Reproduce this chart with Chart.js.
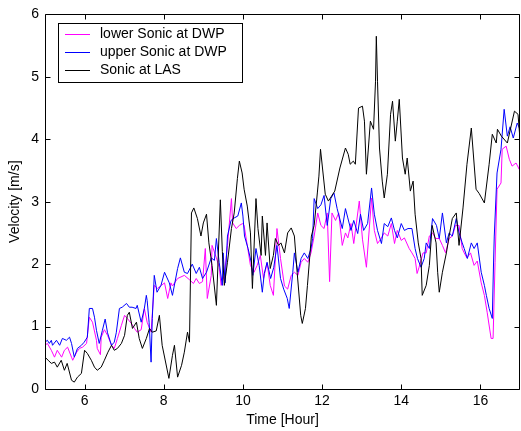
<!DOCTYPE html>
<html><head><meta charset="utf-8">
<script src="https://cdn.jsdelivr.net/npm/chart.js@4/dist/chart.umd.min.js"></script>
<style>html,body{margin:0;padding:0;background:#fff}#wrap{width:521px;height:431px}</style>
</head><body><div id="wrap"><canvas id="c" width="521" height="431"></canvas></div>
<script>
const xTickValues = [6, 8, 10, 12, 14, 16];
const yTickValues = [0, 1, 2, 3, 4, 5, 6];
const seriesNames = ["lower Sonic at DWP", "upper Sonic at DWP", "Sonic at LAS"];
const xTitle = "Time [Hour]";
const yTitle = "Velocity [m/s]";

const lowerTime = [5.00,5.06,5.16,5.24,5.31,5.42,5.49,5.57,5.67,5.70,5.80,5.87,5.95,6.05,6.12,6.20,6.30,6.32,6.40,6.42,6.50,6.58,6.68,6.75,6.83,6.93,7.01,7.08,7.18,7.26,7.33,7.43,7.51,7.58,7.68,7.76,7.84,7.94,8.02,8.10,8.18,8.22,8.35,8.52,8.65,8.75,8.82,8.90,8.98,9.05,9.10,9.20,9.22,9.33,9.40,9.45,9.53,9.61,9.71,9.74,9.83,9.91,9.99,10.03,10.11,10.19,10.28,10.36,10.44,10.52,10.61,10.69,10.77,10.86,10.95,11.05,11.13,11.22,11.30,11.39,11.47,11.55,11.64,11.72,11.80,11.89,11.97,12.05,12.13,12.19,12.25,12.34,12.42,12.51,12.59,12.65,12.73,12.80,12.94,13.02,13.12,13.25,13.32,13.40,13.48,13.57,13.66,13.75,13.83,13.90,14.00,14.08,14.20,14.27,14.35,14.40,14.45,14.55,14.63,14.71,14.79,14.87,14.96,15.04,15.12,15.21,15.29,15.37,15.46,15.54,15.59,15.66,15.75,15.84,15.92,16.02,16.10,16.17,16.27,16.32,16.37,16.42,16.52,16.55,16.65,16.73,16.80,16.90,16.98,17.00];
const lowerVel  = [0.70,0.73,0.62,0.51,0.62,0.51,0.62,0.67,0.51,0.46,0.59,0.65,0.67,0.73,1.15,1.07,0.78,0.65,0.55,0.83,0.95,0.86,0.70,0.65,0.81,1.02,1.18,1.13,1.05,0.97,0.91,0.95,1.29,1.07,0.91,1.66,1.61,1.66,1.70,1.45,1.70,1.65,1.77,1.82,1.75,1.69,1.77,1.69,1.72,2.25,1.45,1.82,2.30,2.10,1.95,1.66,1.82,2.30,3.05,2.66,2.57,2.62,2.65,2.62,2.30,1.98,1.87,1.98,2.14,1.77,2.02,1.66,1.50,2.57,2.09,1.65,1.60,1.82,1.87,1.82,2.03,2.09,2.03,2.18,2.45,2.82,2.62,2.57,2.82,1.72,2.82,2.70,2.82,2.30,2.50,2.42,2.65,2.33,3.01,2.40,1.95,3.06,2.54,2.33,2.40,2.50,2.45,2.65,2.33,2.54,2.38,2.42,2.25,2.18,2.09,1.85,1.95,2.18,2.18,2.45,2.50,2.41,2.41,2.30,2.18,2.41,2.45,2.62,2.62,2.25,2.18,2.10,2.18,1.98,2.05,1.70,1.50,1.23,0.81,0.81,2.03,3.20,3.30,3.84,3.89,3.68,3.57,3.62,3.52,3.73];

const upperTime = [5.00,5.06,5.11,5.16,5.19,5.29,5.37,5.44,5.54,5.62,5.67,5.74,5.82,5.92,5.99,6.07,6.12,6.20,6.25,6.30,6.37,6.45,6.52,6.58,6.68,6.75,6.80,6.88,6.95,7.06,7.13,7.20,7.30,7.33,7.43,7.51,7.56,7.58,7.63,7.68,7.71,7.76,7.83,7.93,8.02,8.14,8.22,8.35,8.42,8.52,8.60,8.72,8.82,8.90,8.98,9.08,9.20,9.28,9.33,9.40,9.48,9.50,9.55,9.61,9.70,9.78,9.87,9.96,10.00,10.04,10.13,10.21,10.25,10.33,10.41,10.49,10.54,10.61,10.70,10.78,10.86,10.95,11.03,11.12,11.17,11.26,11.30,11.39,11.47,11.55,11.64,11.72,11.76,11.80,11.89,11.97,12.05,12.13,12.22,12.30,12.38,12.51,12.59,12.65,12.73,12.80,12.90,12.97,13.05,13.15,13.25,13.32,13.40,13.50,13.57,13.66,13.75,13.83,13.90,14.00,14.08,14.17,14.27,14.35,14.41,14.50,14.58,14.63,14.71,14.79,14.89,14.96,15.04,15.14,15.21,15.29,15.39,15.46,15.54,15.59,15.67,15.77,15.84,15.92,16.02,16.10,16.15,16.22,16.30,16.33,16.35,16.42,16.52,16.60,16.68,16.75,16.83,16.93,17.00];
const upperVel  = [0.75,0.78,0.73,0.78,0.70,0.78,0.70,0.81,0.78,0.83,0.73,0.51,0.65,0.70,0.75,0.83,1.29,1.29,1.15,0.94,0.73,0.94,1.12,0.90,0.70,0.75,0.90,1.29,1.31,1.37,1.31,1.31,1.29,1.34,1.07,1.29,1.50,1.42,1.07,0.43,1.13,1.82,1.55,1.66,1.87,1.70,1.50,1.93,2.10,1.87,1.85,2.00,1.85,1.95,1.77,1.87,2.10,2.06,2.41,2.03,1.66,2.18,1.70,2.45,2.70,2.74,2.77,2.98,2.77,2.45,2.25,2.03,1.82,2.25,1.98,1.55,1.85,2.03,1.77,1.95,2.30,1.77,1.60,1.45,1.29,1.87,2.18,1.87,2.09,2.18,2.09,2.25,2.41,3.05,2.89,2.95,3.10,2.62,3.05,3.14,2.89,2.57,2.89,2.74,2.54,2.70,2.49,2.80,2.54,2.65,3.22,2.80,2.54,2.33,2.65,2.60,2.74,2.54,2.42,2.65,2.54,2.57,2.57,2.25,2.09,1.95,2.09,2.34,2.25,2.73,2.62,2.41,2.82,2.34,2.50,2.45,2.73,2.50,2.34,2.25,2.09,2.34,2.25,2.34,1.87,1.66,1.50,1.29,1.13,1.97,2.45,3.46,3.84,4.48,4.05,4.20,4.02,4.26,4.16];

const lasTime = [5.00,5.08,5.16,5.24,5.31,5.41,5.49,5.56,5.67,5.74,5.82,5.92,6.00,6.07,6.17,6.25,6.32,6.42,6.50,6.59,6.68,6.75,6.83,6.93,7.01,7.08,7.13,7.21,7.31,7.38,7.46,7.56,7.64,7.71,7.81,7.89,7.96,8.13,8.22,8.27,8.35,8.45,8.52,8.60,8.65,8.70,8.76,8.85,8.94,9.00,9.08,9.14,9.22,9.33,9.43,9.48,9.53,9.61,9.71,9.78,9.86,9.91,9.98,10.03,10.11,10.19,10.24,10.33,10.38,10.46,10.49,10.57,10.61,10.69,10.77,10.82,10.90,10.96,11.05,11.13,11.22,11.30,11.37,11.46,11.50,11.58,11.63,11.73,11.80,11.88,11.92,11.96,12.08,12.16,12.24,12.32,12.45,12.59,12.66,12.71,12.79,12.84,12.92,13.02,13.07,13.12,13.17,13.22,13.30,13.35,13.37,13.40,13.45,13.52,13.57,13.65,13.73,13.78,13.85,13.90,13.95,14.03,14.10,14.15,14.23,14.30,14.35,14.43,14.50,14.53,14.63,14.71,14.78,14.88,14.92,14.96,15.04,15.14,15.21,15.29,15.39,15.46,15.56,15.66,15.77,15.89,15.97,16.10,16.22,16.30,16.40,16.43,16.53,16.68,16.86,16.95,17.00];
const lasVel  = [0.51,0.46,0.41,0.43,0.35,0.46,0.30,0.41,0.14,0.11,0.19,0.25,0.62,0.57,0.46,0.35,0.30,0.35,0.46,0.59,0.70,0.62,0.65,0.73,0.86,1.18,1.23,0.97,1.07,0.81,0.65,0.81,0.97,0.91,0.93,1.18,0.70,0.17,0.54,0.70,0.19,0.38,0.59,0.91,0.75,2.82,2.90,2.73,2.45,2.66,2.80,2.34,1.98,1.34,3.03,2.20,1.66,2.03,2.57,2.82,3.37,3.65,3.46,3.20,2.93,2.50,1.61,3.05,2.57,2.14,2.77,2.14,2.66,1.93,2.14,2.41,2.30,2.34,2.18,2.50,2.58,2.45,1.87,1.18,1.05,1.29,1.66,2.45,2.62,3.14,3.41,3.84,3.12,3.01,3.09,3.17,3.54,3.86,3.76,3.60,3.65,3.60,4.50,4.53,4.29,3.44,3.86,4.29,4.16,4.93,5.65,4.93,3.86,3.33,3.06,3.44,4.40,4.61,3.97,4.29,4.64,3.70,3.44,3.70,3.17,3.33,2.80,2.34,2.09,1.50,1.66,1.98,2.62,2.34,1.87,1.55,1.87,2.18,2.45,2.73,2.82,2.30,2.90,3.60,4.18,3.20,3.13,2.98,3.60,4.08,3.94,4.16,4.05,3.94,4.45,4.40,4.00];

const FONT = "'Liberation Sans', Arial, sans-serif";
const lineColors = ['#ff00ff', '#0000ff', '#000000'];
const pts = (t, v) => t.map((x, i) => ({ x: x, y: v[i] }));

Chart.defaults.font.family = FONT;
Chart.defaults.font.size = 14;
Chart.defaults.color = '#000';

const framePlugin = {
  id: 'frame',
  afterDatasetsDraw(chart) {
    const { ctx, chartArea: a, scales } = chart;
    const L = Math.round(a.left) + 0.5, R = Math.round(a.right) - 0.5;
    const T = Math.round(a.top) + 0.5, B = Math.round(a.bottom) + 0.5;
    ctx.save();
    ctx.strokeStyle = '#000';
    ctx.lineWidth = 1;
    ctx.beginPath();
    ctx.rect(L, T, R - L, B - T);
    const tl = 5;
    xTickValues.forEach(v => {
      const p = Math.round(scales.x.getPixelForValue(v)) + 0.5;
      ctx.moveTo(p, B); ctx.lineTo(p, B - tl);
      ctx.moveTo(p, T); ctx.lineTo(p, T + tl);
    });
    yTickValues.forEach(v => {
      const p = Math.round(scales.y.getPixelForValue(v)) + 0.5;
      ctx.moveTo(L, p); ctx.lineTo(L + tl, p);
      ctx.moveTo(R, p); ctx.lineTo(R - tl, p);
    });
    ctx.stroke();

    // legend box inside the axes
    const bx = 58.5, by = 23.5, bw = 184, bh = 59;
    ctx.fillStyle = '#fff';
    ctx.fillRect(bx, by, bw, bh);
    ctx.strokeRect(bx, by, bw, bh);
    ctx.font = '14px ' + FONT;
    ctx.textBaseline = 'middle';
    ctx.textAlign = 'left';
    chart.data.datasets.forEach((ds, i) => {
      const yy = 34.5 + i * 18;
      ctx.beginPath();
      ctx.strokeStyle = ds.borderColor;
      ctx.moveTo(65, yy); ctx.lineTo(90, yy);
      ctx.stroke();
      ctx.fillStyle = '#000';
      ctx.fillText(ds.label, 100, yy);
    });
    ctx.restore();
  }
};

new Chart(document.getElementById('c'), {
  type: 'line',
  data: {
    datasets: [
      { label: seriesNames[0], data: pts(lowerTime, lowerVel), borderColor: lineColors[0], order: 3 },
      { label: seriesNames[1], data: pts(upperTime, upperVel), borderColor: lineColors[1], order: 2 },
      { label: seriesNames[2], data: pts(lasTime, lasVel), borderColor: lineColors[2], order: 1 }
    ]
  },
  options: {
    responsive: false,
    animation: false,
    devicePixelRatio: 1,
    layout: { padding: { top: 13, right: 1, left: 0, bottom: 0 } },
    elements: {
      line: { borderWidth: 1, tension: 0, fill: false },
      point: { radius: 0, hoverRadius: 0 }
    },
    plugins: { legend: { display: false }, tooltip: { enabled: false } },
    scales: {
      x: {
        type: 'linear', min: 5, max: 17,
        afterBuildTicks: s => { s.ticks = xTickValues.map(v => ({ value: v })); },
        afterFit: s => { s.height = 42; },
        grid: { display: false, drawTicks: false },
        border: { display: false },
        ticks: { padding: 4, maxRotation: 0, autoSkip: false, font: { size: 14 } },
        title: { display: true, text: xTitle, font: { size: 14 }, padding: { top: 0, bottom: 2 } }
      },
      y: {
        type: 'linear', min: 0, max: 6,
        afterBuildTicks: s => { s.ticks = yTickValues.map(v => ({ value: v })); },
        afterFit: s => { s.width = 45; },
        grid: { display: false, drawTicks: false },
        border: { display: false },
        ticks: { padding: 6, autoSkip: false, font: { size: 14 } },
        title: { display: true, text: yTitle, font: { size: 14 }, padding: { top: 7, bottom: 0 } }
      }
    }
  },
  plugins: [framePlugin]
});
</script>
</body></html>
